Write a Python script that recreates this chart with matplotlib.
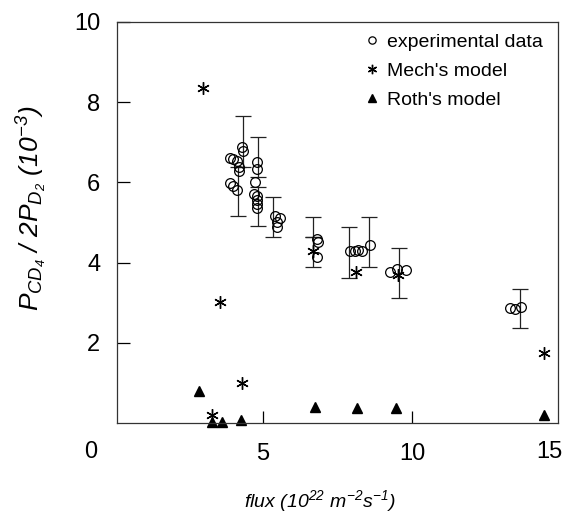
import matplotlib
matplotlib.use("Agg")
import matplotlib.pyplot as plt

plt.rcParams['font.family'] = ['Liberation Sans', 'DejaVu Sans']
plt.rcParams['mathtext.fontset'] = 'custom'
plt.rcParams['mathtext.rm'] = 'Liberation Sans:italic'
plt.rcParams['mathtext.it'] = 'Liberation Sans:italic'

# experimental data (open circles)
exp_x = [3.89, 4.00, 4.14, 4.20, 4.20, 4.28, 4.32, 3.89, 4.00, 4.12,
         4.79, 4.79, 4.73, 4.70, 4.81, 4.81, 4.81, 4.81,
         5.40, 5.57, 5.46, 5.46,
         6.80, 6.85, 6.82,
         7.92, 8.09, 8.20, 8.31, 8.59,
         9.26, 9.49, 9.80,
         13.29, 13.46, 13.66]
exp_y = [6.61, 6.58, 6.53, 6.39, 6.29, 6.89, 6.79, 5.98, 5.92, 5.80,
         6.50, 6.34, 6.00, 5.71, 5.67, 5.55, 5.46, 5.36,
         5.15, 5.12, 5.01, 4.88,
         4.59, 4.51, 4.14,
         4.29, 4.30, 4.32, 4.30, 4.43,
         3.76, 3.85, 3.82,
         2.87, 2.85, 2.89]

# error bars (x, low end, high end)
eb_x = [4.33, 4.17, 4.84, 4.84, 5.32, 6.69, 6.69, 7.87, 8.56, 9.56, 13.62]
eb_lo = [6.38, 5.15, 6.13, 4.90, 4.63, 4.63, 3.88, 3.62, 3.89, 3.12, 2.36]
eb_hi = [7.65, 6.38, 7.14, 5.88, 5.63, 5.13, 4.63, 4.88, 5.13, 4.37, 3.35]

# Mech's model
mech_x = [3.00, 3.28, 3.56, 4.28, 6.69, 8.12, 9.54, 14.44]
mech_y = [8.35, 0.20, 3.02, 0.99, 4.30, 3.76, 3.68, 1.75]

# Roth's model
roth_x = [2.86, 3.28, 3.61, 4.26, 6.74, 8.17, 9.45, 14.44]
roth_y = [0.80, 0.02, 0.03, 0.09, 0.41, 0.38, 0.37, 0.20]

fig = plt.figure(figsize=(5.74, 5.18), dpi=100)
ax = fig.add_axes([0.204, 0.183, 0.768, 0.775])

eb_mid = [(a + b) / 2 for a, b in zip(eb_lo, eb_hi)]
eb_err = [(b - a) / 2 for a, b in zip(eb_lo, eb_hi)]
ax.errorbar(eb_x, eb_mid, yerr=eb_err, fmt='none', ecolor='#222222',
            elinewidth=0.9, capsize=5.5, capthick=0.9)

ax.plot(exp_x, exp_y, 'o', mfc='none', mec='black', ms=7, mew=0.9,
        label='experimental data')
ax.plot(mech_x, mech_y, ls='none', marker=(6, 2, 0), color='black', ms=9,
        mew=1.0, label="Mech's model", clip_on=False)
ax.plot(roth_x, roth_y, '^', color='black', ms=7, label="Roth's model",
        clip_on=False)

ax.set_xlim(0.1, 14.9)
ax.set_ylim(0, 10)
ax.set_xticks([5, 10])
ax.set_yticks([2, 4, 6, 8, 10])
ax.tick_params(direction='in', length=9, width=0.9, labelsize=17)
ax.tick_params(axis='y', pad=12)
ax.tick_params(axis='x', pad=14)
for s in ax.spines.values():
    s.set_linewidth(0.9)
    s.set_color('#333333')

ax.text(-0.061, -0.072, '0', transform=ax.transAxes, ha='center',
        va='center', fontsize=17)
ax.text(0.98, -0.072, '15', transform=ax.transAxes, ha='center',
        va='center', fontsize=17)

ax.set_ylabel(r'$P_{CD_4}\ /\ 2P_{D_2}\ (10^{-3})$', fontsize=19)
ax.yaxis.set_label_coords(-0.155, 0.535)
ax.set_xlabel(r'$flux\ (10^{22}\ m^{-2}s^{-1})$', fontsize=14)
ax.xaxis.label.set_va('center')
ax.xaxis.set_label_coords(0.46, -0.195)

ax.legend(loc='upper left', bbox_to_anchor=(0.56, 0.972), frameon=False,
          fontsize=14, handlelength=0.8, handletextpad=0.4, borderpad=0,
          borderaxespad=0, labelspacing=0.6, numpoints=1, markerscale=0.75)

fig.savefig('out.png', dpi=100)
